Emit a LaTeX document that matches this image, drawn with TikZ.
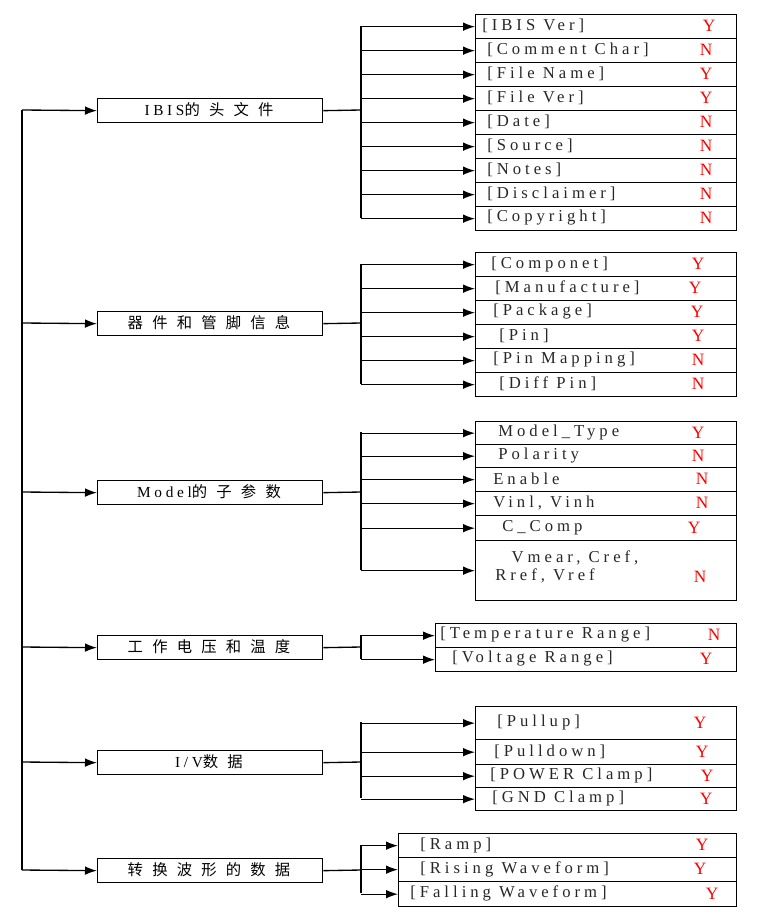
\documentclass[tikz,border=0pt]{standalone}
\usepackage{fontspec}
\setmainfont[LetterSpace=24]{Liberation Serif}
\newfontfamily\cjk[LetterSpace=60]{Noto Sans CJK SC}
\usetikzlibrary{arrows.meta}
\tikzset{
  x=0.75pt,y=-0.75pt,
  bx/.style={draw,line width=1pt,inner sep=0pt,anchor=north west},
  arr/.style={line width=1pt,-{Latex[length=9pt,width=6.5pt]}},
  ln/.style={line width=1pt},
  lbl/.style={anchor=west,inner sep=0pt,font=\fontsize{12.5}{14}\selectfont,text=black!85},
  yn/.style={inner sep=0pt,font=\fontsize{13}{14}\selectfont,text=red},
}
\newcommand{\leafbox}[9]{%
  \node[bx,minimum width={(#3-#2)*0.75pt},minimum height={(#5-#4)*0.75pt}] (#1) at (#2,#4) {};
  \node[lbl] (#1t) at (#7,{(#4+#5)/2}) {#6};
  \node[yn] (#1y) at (#9,{(#4+#5)/2}) {#8};
}
\newcommand{\catbox}[3]{%
  \node[bx,minimum width={225*0.75pt},minimum height={24*0.75pt}] (#1) at (97,{#2-12}) {};
  \node[inner sep=0pt,font=\fontsize{11.5}{13}\selectfont] (#1t) at (209,#2) {#3};
}
\begin{document}
\begin{tikzpicture}
\useasboundingbox (0,0) rectangle (761,923);
\catbox{c1}{110}{IBIS{\cjk 的头文件}}
\catbox{c2}{323}{\cjk 器件和管脚信息}
\catbox{c3}{492}{Model{\cjk 的子参数}}
\catbox{c4}{647}{\cjk 工作电压和温度}
\catbox{c5}{762}{I/V{\cjk 数据}}
\catbox{c6}{870}{\cjk 转换波形的数据}
\coordinate (s1) at (22,110);
\coordinate (s6) at (22,870);
\draw[ln] (s1) -- (s6);
\foreach \c/\y in {c1/110,c2/323,c3/492,c4/647,c5/762,c6/870}
  \draw[arr] (22,\y) -- (\c.west);
% group 1
\leafbox{a1}{475}{736}{14}{38}{[IBIS Ver]}{482}{Y}{709}
\leafbox{a2}{475}{736}{38}{62}{[Comment Char]}{487}{N}{706}
\leafbox{a3}{475}{736}{62}{86}{[File Name]}{487}{Y}{706}
\leafbox{a4}{475}{736}{86}{110}{[File Ver]}{487}{Y}{706}
\leafbox{a5}{475}{736}{110}{134}{[Date]}{487}{N}{706}
\leafbox{a6}{475}{736}{134}{158}{[Source]}{487}{N}{706}
\leafbox{a7}{475}{736}{158}{182}{[Notes]}{487}{N}{706}
\leafbox{a8}{475}{736}{182}{206}{[Disclaimer]}{487}{N}{706}
\leafbox{a9}{475}{736}{206}{230}{[Copyright]}{487}{N}{706}
\draw[ln] (c1.east) -- (361,110);
\draw[ln] (361,26) -- (361,218);
\foreach \n in {a1,a2,a3,a4,a5,a6,a7,a8,a9}
  \draw[arr] (\n.west -| 361,0) -- (\n.west);
% group 2
\leafbox{b1}{475}{736}{252}{276}{[Componet]}{491}{Y}{698}
\leafbox{b2}{475}{736}{276}{300}{[Manufacture]}{495}{Y}{695}
\leafbox{b3}{475}{736}{300}{324}{[Package]}{493}{Y}{697}
\leafbox{b4}{475}{736}{324}{348}{[Pin]}{499}{Y}{698}
\leafbox{b5}{475}{736}{348}{372}{[Pin Mapping]}{493}{N}{698}
\leafbox{b6}{475}{736}{372}{396}{[Diff Pin]}{499}{N}{698}
\draw[ln] (c2.east) -- (361,323);
\draw[ln] (361,264) -- (361,384);
\foreach \n in {b1,b2,b3,b4,b5,b6}
  \draw[arr] (\n.west -| 361,0) -- (\n.west);
% group 3
\leafbox{d1}{475}{736}{421}{444}{Model\_Type}{498}{Y}{698}
\leafbox{d2}{475}{736}{444}{467}{Polarity}{498}{N}{698}
\leafbox{d3}{475}{736}{467}{491}{Enable}{493}{N}{702}
\leafbox{d4}{475}{736}{491}{515}{Vinl, Vinh}{493}{N}{702}
\leafbox{d5}{475}{736}{515}{540}{C\_Comp}{502}{Y}{694}
\node[bx,minimum width={261*0.75pt},minimum height={60*0.75pt}] (d6) at (475,540) {};
\node[lbl,align=left] (d6t) at (495,567) {\ \ Vmear, Cref,\\Rref, Vref};
\node[yn] (d6y) at (700,577) {N};
\draw[ln] (c3.east) -- (361,492);
\draw[ln] (361,432) -- (361,570);
\foreach \n in {d1,d2,d3,d4,d5,d6}
  \draw[arr] (\n.west -| 361,0) -- (\n.west);
% group 4
\leafbox{e1}{435}{736}{623}{647}{[Temperature Range]}{440}{N}{714}
\leafbox{e2}{435}{736}{647}{671}{[Voltage Range]}{452}{Y}{706}
\draw[ln] (c4.east) -- (361,647);
\draw[ln] (361,635) -- (361,659);
\foreach \n in {e1,e2}
  \draw[arr] (\n.west -| 361,0) -- (\n.west);
% group 5
\leafbox{f1}{475}{736}{706}{739}{[Pullup]}{497}{Y}{700}
\leafbox{f2}{475}{736}{739}{764}{[Pulldown]}{494}{Y}{702}
\leafbox{f3}{475}{736}{764}{787}{[POWER Clamp]}{490}{Y}{707}
\leafbox{f4}{475}{736}{787}{810}{[GND Clamp]}{492}{Y}{706}
\draw[ln] (c5.east) -- (361,762);
\draw[ln] (361,722) -- (361,798);
\foreach \n in {f1,f2,f3,f4}
  \draw[arr] (\n.west -| 361,0) -- (\n.west);
% group 6
\leafbox{g1}{398}{736}{833}{857}{[Ramp]}{420}{Y}{702}
\leafbox{g2}{398}{736}{857}{881}{[Rising Waveform]}{420}{Y}{700}
\leafbox{g3}{398}{736}{881}{906}{[Falling Waveform]}{410}{Y}{712}
\draw[ln] (c6.east) -- (361,870);
\draw[ln] (361,845) -- (361,893);
\foreach \n in {g1,g2,g3}
  \draw[arr] (\n.west -| 361,0) -- (\n.west);
\end{tikzpicture}
\end{document}
